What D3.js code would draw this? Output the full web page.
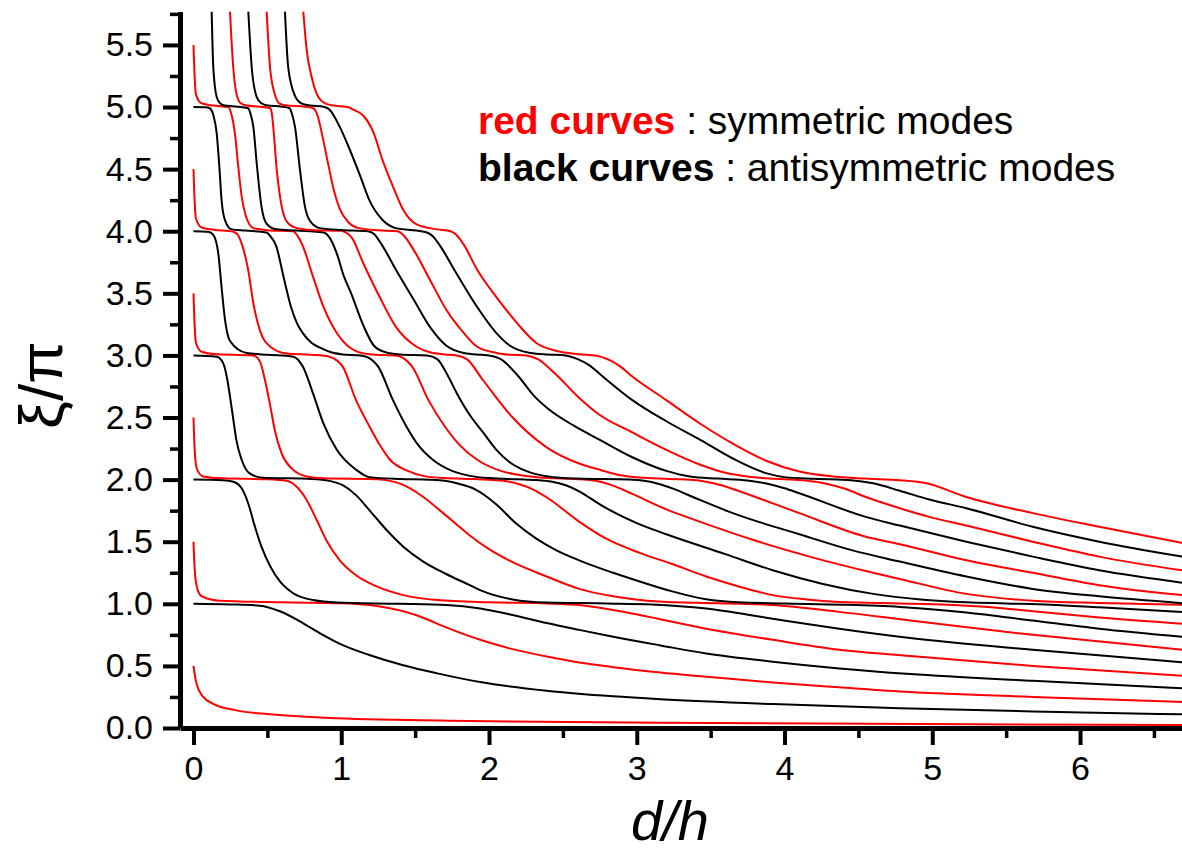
<!DOCTYPE html>
<html>
<head>
<meta charset="utf-8">
<script src="https://cdn.jsdelivr.net/npm/d3@7"></script>
<style>
  body { margin: 0; background: #fff; }
  svg { display: block; font-family: "Liberation Sans", Arial, sans-serif; }
  .axis path, .axis line { stroke: #000; }
  .axis text { fill: #000; }
  .curve { fill: none; stroke-width: 2; stroke-linejoin: round; }
</style>
</head>
<body>
<div id="chart"></div>
<script>
// tick values
var xTicks = [0, 1, 2, 3, 4, 5, 6],
    xMinor = [0.5, 1.5, 2.5, 3.5, 4.5, 5.5, 6.5],
    yTicks = [0, 0.5, 1, 1.5, 2, 2.5, 3, 3.5, 4, 4.5, 5, 5.5],
    yMinor = [0.25, 0.75, 1.25, 1.75, 2.25, 2.75, 3.25, 3.75, 4.25, 4.75, 5.25, 5.75];

// symmetric modes (red curves) as [d/h, xi/pi]
var sym0 = [[0,0.5],[0.01,0.42],[0.022,0.35],[0.066,0.25],[0.134,0.195],[0.29,0.142],[0.52,0.11],[0.97,0.078],
  [1.87,0.056],[3.16,0.043],[4.92,0.032],[6.69,0.024]];
var sym1 = [[0,1.5],[0.005,1.35],[0.012,1.22],[0.022,1.14],[0.04,1.08],[0.066,1.055],[0.18,1.025],[0.6,1.012],
  [1.0,1.005],[1.19,0.99],[1.3,0.97],[1.42,0.94],[1.55,0.89],[1.71,0.81],[1.94,0.71],[2.16,0.635],[2.39,0.575],
  [2.61,0.527],[2.84,0.49],[3.16,0.447],[3.47,0.413],[3.92,0.366],[4.37,0.328],[4.85,0.29],[5.68,0.25],[6.69,0.21]];
var sym2 = [[0,2.5],[0.005,2.32],[0.012,2.17],[0.025,2.08],[0.066,2.025],[0.2,2.01],[0.5,2.003],[0.63,1.99],
  [0.70,1.94],[0.766,1.836],[0.834,1.675],[0.90,1.51],[0.99,1.35],[1.10,1.23],[1.24,1.14],[1.42,1.07],[1.65,1.03],
  [2.0,1.012],[2.4,1.003],[2.61,0.99],[2.84,0.95],[3.02,0.91],[3.47,0.80],[3.92,0.71],[4.37,0.63],[4.85,0.58],
  [5.68,0.50],[6.69,0.42]];
var sym3 = [[0,3.5],[0.005,3.32],[0.017,3.10],[0.055,3.03],[0.134,3.012],[0.405,3.0],[0.45,2.95],[0.484,2.80],
  [0.52,2.59],[0.55,2.40],[0.597,2.21],[0.664,2.09],[0.766,2.025],[0.88,2.01],[1.25,2.003],[1.33,1.99],[1.42,1.957],
  [1.555,1.86],[1.69,1.73],[1.80,1.62],[1.87,1.55],[2.0,1.44],[2.16,1.335],[2.39,1.22],[2.61,1.12],[2.84,1.06],
  [3.07,1.025],[3.4,1.008],[3.7,1.0],[3.92,0.99],[4.37,0.935],[4.85,0.865],[5.68,0.75],[6.69,0.63]];
var sym4 = [[0,4.5],[0.005,4.32],[0.017,4.10],[0.055,4.03],[0.134,4.012],[0.27,3.995],[0.30,3.97],[0.326,3.90],
  [0.37,3.69],[0.405,3.42],[0.45,3.20],[0.52,3.07],[0.63,3.015],[0.8,3.005],[0.92,2.99],[0.97,2.96],[1.01,2.91],
  [1.10,2.64],[1.19,2.43],[1.26,2.28],[1.33,2.16],[1.45,2.07],[1.555,2.03],[1.7,2.012],[1.9,2.005],[2.0,1.999],
  [2.1,1.99],[2.2,1.965],[2.3,1.92],[2.4,1.85],[2.6,1.67],[2.8,1.52],[3.02,1.41],[3.24,1.32],[3.47,1.22],[3.69,1.14],
  [3.92,1.07],[4.15,1.035],[4.37,1.015],[4.78,1.003],[5.1,0.993],[5.4,0.972],[5.68,0.94],[6.13,0.89],[6.69,0.84]];
var sym5 = [[0,5.5],[0.005,5.32],[0.017,5.10],[0.055,5.03],[0.134,5.012],[0.236,5.0],[0.258,4.935],[0.28,4.79],
  [0.303,4.52],[0.326,4.28],[0.355,4.12],[0.405,4.025],[0.5,4.008],[0.675,4.0],[0.70,3.97],[0.74,3.88],[0.81,3.63],
  [0.88,3.39],[0.97,3.18],[1.04,3.08],[1.10,3.035],[1.19,3.01],[1.38,2.997],[1.43,2.97],[1.48,2.91],[1.59,2.64],
  [1.70,2.43],[1.80,2.28],[1.92,2.16],[2.08,2.07],[2.25,2.03],[2.45,2.01],[2.62,2.002],[2.72,1.99],[2.82,1.96],
  [2.97,1.885],[3.2,1.76],[3.43,1.66],[3.8,1.51],[4.2,1.37],[4.6,1.25],[4.78,1.20],[5.23,1.08],[5.68,1.025],
  [6.13,1.007],[6.69,0.993]];
var sym6 = [[0.247,5.77],[0.269,5.32],[0.292,5.1],[0.32,5.03],[0.36,5.012],[0.45,5.003],[0.52,4.99],[0.53,4.95],
  [0.54,4.84],[0.563,4.5],[0.597,4.2],[0.63,4.08],[0.70,4.025],[0.8,4.01],[1.0,4.003],[1.03,3.99],[1.07,3.95],
  [1.15,3.74],[1.26,3.47],[1.37,3.23],[1.51,3.07],[1.60,3.025],[1.7,3.008],[1.78,3.0],[1.85,2.97],[1.96,2.80],
  [2.16,2.50],[2.39,2.26],[2.61,2.13],[2.75,2.08],[2.89,2.035],[3.05,2.015],[3.3,2.003],[3.42,1.993],[3.52,1.97],
  [3.65,1.925],[3.85,1.84],[4.10,1.73],[4.55,1.54],[4.78,1.48],[5.23,1.35],[5.68,1.25],[6.13,1.15],[6.69,1.07]];
var sym7 = [[0.495,5.77],[0.518,5.32],[0.551,5.1],[0.58,5.03],[0.63,5.012],[0.75,5.003],[0.81,4.99],[0.84,4.93],
  [0.87,4.78],[0.91,4.55],[0.95,4.33],[0.99,4.18],[1.05,4.07],[1.12,4.025],[1.25,4.008],[1.38,4.0],[1.42,3.97],
  [1.49,3.85],[1.60,3.61],[1.71,3.37],[1.83,3.18],[1.92,3.07],[2.05,3.02],[2.15,3.005],[2.25,3.0],[2.33,2.97],
  [2.45,2.85],[2.6,2.67],[2.75,2.52],[2.97,2.38],[3.2,2.24],[3.43,2.12],[3.6,2.055],[3.75,2.025],[3.9,2.008],
  [4.12,1.995],[4.25,1.975],[4.4,1.93],[4.55,1.86],[4.78,1.77],[4.98,1.70],[5.23,1.63],[5.68,1.50],[6.13,1.38],
  [6.69,1.27]];
var sym8 = [[0.743,5.77],[0.766,5.46],[0.80,5.24],[0.845,5.08],[0.89,5.03],[0.95,5.012],[1.05,4.998],[1.08,4.98],
  [1.15,4.93],[1.22,4.79],[1.28,4.57],[1.35,4.36],[1.42,4.17],[1.51,4.055],[1.65,4.015],[1.74,4.0],[1.78,3.97],
  [1.83,3.89],[1.92,3.69],[2.05,3.47],[2.19,3.26],[2.32,3.10],[2.46,3.035],[2.6,3.01],[2.73,2.998],[2.82,2.96],
  [2.89,2.91],[2.97,2.83],[3.20,2.64],[3.43,2.45],[3.65,2.29],[3.88,2.15],[4.10,2.065],[4.33,2.025],[4.55,2.008],
  [4.78,1.995],[4.96,1.97],[5.23,1.86],[5.68,1.73],[6.13,1.62],[6.69,1.49]];

// antisymmetric modes (black curves)
var anti0 = [[0,1.0],[0.25,0.995],[0.45,0.985],[0.585,0.94],[0.74,0.845],[0.86,0.76],[1.01,0.667],[1.19,0.588],
  [1.42,0.505],[1.65,0.44],[1.94,0.37],[2.39,0.30],[2.84,0.255],[3.16,0.232],[3.92,0.193],[4.78,0.16],[5.68,0.133],[6.69,0.11]];
var anti1 = [[0,2.0],[0.2,1.995],[0.27,1.983],[0.326,1.93],[0.37,1.81],[0.416,1.62],[0.46,1.46],[0.52,1.30],
  [0.585,1.18],[0.675,1.085],[0.81,1.03],[0.97,1.01],[1.4,1.0],[1.71,0.99],[1.94,0.962],[2.16,0.91],[2.39,0.845],
  [2.61,0.79],[2.84,0.735],[3.16,0.665],[3.47,0.60],[3.92,0.534],[4.37,0.48],[4.85,0.435],[5.68,0.38],[6.69,0.32]];
var anti2 = [[0,3.0],[0.157,2.99],[0.2,2.94],[0.225,2.83],[0.247,2.67],[0.27,2.48],[0.29,2.32],[0.326,2.16],
  [0.38,2.05],[0.47,2.015],[0.8,2.005],[0.92,1.99],[1.01,1.955],[1.10,1.875],[1.19,1.755],[1.31,1.59],[1.42,1.46],
  [1.555,1.34],[1.71,1.24],[1.87,1.15],[1.94,1.11],[2.16,1.035],[2.39,1.01],[2.8,1.003],[3.1,0.995],[3.47,0.962],
  [3.92,0.88],[4.37,0.80],[4.85,0.725],[5.68,0.63],[6.69,0.53]];
var anti3 = [[0,4.0],[0.1,3.995],[0.134,3.97],[0.168,3.82],[0.19,3.55],[0.213,3.29],[0.235,3.15],[0.258,3.10],
  [0.3,3.05],[0.36,3.02],[0.5,3.005],[0.675,2.99],[0.74,2.91],[0.81,2.69],[0.88,2.45],[0.97,2.24],[1.10,2.08],
  [1.19,2.02],[1.4,2.005],[1.6,1.999],[1.7,1.99],[1.8,1.965],[1.9,1.925],[2.05,1.80],[2.18,1.65],[2.32,1.525],
  [2.45,1.435],[2.61,1.35],[2.84,1.25],[3.02,1.18],[3.24,1.10],[3.47,1.036],[3.69,1.012],[4.0,1.003],[4.4,0.993],
  [4.78,0.975],[5.23,0.93],[5.68,0.865],[6.13,0.80],[6.69,0.735]];
var anti4 = [[0,5.0],[0.08,4.998],[0.11,4.99],[0.134,4.935],[0.157,4.79],[0.175,4.52],[0.19,4.25],[0.213,4.09],
  [0.258,4.015],[0.35,4.005],[0.495,3.99],[0.52,3.96],[0.56,3.88],[0.61,3.63],[0.66,3.39],[0.70,3.26],[0.74,3.18],
  [0.80,3.10],[0.86,3.06],[0.93,3.025],[1.01,3.008],[1.13,3.0],[1.18,2.985],[1.25,2.91],[1.35,2.64],[1.44,2.43],
  [1.52,2.28],[1.62,2.16],[1.75,2.07],[1.87,2.03],[2.0,2.012],[2.2,2.003],[2.32,1.997],[2.42,1.985],[2.52,1.955],
  [2.62,1.90],[2.75,1.80],[3.0,1.65],[3.2,1.56],[3.6,1.40],[3.92,1.27],[4.26,1.16],[4.6,1.08],[4.92,1.035],
  [5.23,1.012],[5.5,1.003],[5.8,0.993],[6.13,0.972],[6.69,0.935]];
var anti5 = [[0.123,5.77],[0.134,5.32],[0.157,5.08],[0.18,5.03],[0.21,5.012],[0.3,5.003],[0.37,4.99],[0.385,4.95],
  [0.405,4.84],[0.43,4.52],[0.46,4.2],[0.495,4.06],[0.56,4.015],[0.7,4.005],[0.88,3.99],[0.92,3.95],[0.97,3.82],
  [1.02,3.63],[1.06,3.52],[1.15,3.24],[1.22,3.08],[1.30,3.025],[1.4,3.008],[1.58,3.0],[1.65,2.97],[1.72,2.84],
  [1.78,2.70],[1.87,2.52],[1.96,2.38],[2.05,2.24],[2.14,2.14],[2.25,2.07],[2.4,2.025],[2.6,2.008],[2.95,2.0],
  [3.05,1.99],[3.15,1.965],[3.25,1.925],[3.4,1.85],[3.65,1.73],[4.10,1.56],[4.46,1.43],[4.78,1.34],[5.23,1.22],
  [5.68,1.12],[6.13,1.06],[6.69,1.005]];
var anti6 = [[0.371,5.77],[0.394,5.32],[0.428,5.08],[0.46,5.03],[0.50,5.012],[0.6,5.003],[0.65,4.99],[0.665,4.95],
  [0.687,4.84],[0.72,4.5],[0.754,4.2],[0.79,4.08],[0.856,4.025],[1.0,4.01],[1.18,4.0],[1.22,3.98],[1.28,3.88],
  [1.37,3.69],[1.49,3.45],[1.60,3.23],[1.71,3.08],[1.83,3.02],[1.95,3.005],[2.0,3.0],[2.08,2.97],[2.2,2.83],
  [2.3,2.68],[2.4,2.57],[2.58,2.43],[2.75,2.32],[2.97,2.18],[3.2,2.07],[3.36,2.025],[3.55,2.008],[3.75,1.993],
  [3.87,1.97],[4.0,1.93],[4.10,1.89],[4.55,1.70],[4.78,1.63],[5.23,1.50],[5.68,1.38],[6.13,1.27],[6.69,1.17]];
var anti7 = [[0.619,5.77],[0.641,5.32],[0.687,5.09],[0.73,5.03],[0.79,5.012],[0.88,5.003],[0.92,4.98],[0.99,4.84],
  [1.06,4.65],[1.13,4.44],[1.19,4.25],[1.28,4.09],[1.37,4.025],[1.51,4.005],[1.58,3.99],[1.62,3.96],[1.67,3.88],
  [1.78,3.66],[1.92,3.39],[2.05,3.18],[2.14,3.08],[2.28,3.02],[2.4,3.008],[2.52,3.0],[2.6,2.97],[2.68,2.92],
  [2.75,2.85],[2.97,2.64],[3.2,2.47],[3.43,2.32],[3.65,2.17],[3.88,2.05],[4.0,2.02],[4.2,2.006],[4.45,1.995],
  [4.6,1.97],[4.78,1.91],[4.98,1.84],[5.23,1.77],[5.68,1.62],[6.13,1.50],[6.69,1.38]];

var red = '#ff0000', black = '#000000';

var modes = [
  {points: sym0, color: red}, {points: anti0, color: black},
  {points: sym1, color: red}, {points: anti1, color: black},
  {points: sym2, color: red}, {points: anti2, color: black},
  {points: sym3, color: red}, {points: anti3, color: black},
  {points: sym4, color: red}, {points: anti4, color: black},
  {points: sym5, color: red}, {points: anti5, color: black},
  {points: sym6, color: red}, {points: anti6, color: black},
  {points: sym7, color: red}, {points: anti7, color: black},
  {points: sym8, color: red}
];

var legendRows = [
  {key: 'red curves', rest: ' : symmetric modes', color: red},
  {key: 'black curves', rest: ' : antisymmetric modes', color: black}
];

var width = 1182, height = 852;

var x = d3.scaleLinear().domain([-0.0913, 6.69]).range([180, 1182]),
    y = d3.scaleLinear().domain([0, 5.77]).range([728, 11.4]);

var svg = d3.select('#chart').append('svg')
    .attr('width', width)
    .attr('height', height);

svg.append('clipPath')
    .attr('id', 'plot')
  .append('rect')
    .attr('x', x.range()[0])
    .attr('y', y.range()[1])
    .attr('width', x.range()[1] - x.range()[0])
    .attr('height', y.range()[0] - y.range()[1]);

var line = d3.line()
    .x(function(d) { return x(d[0]); })
    .y(function(d) { return y(d[1]); })
    .curve(d3.curveMonotoneX);

// the mode curves
svg.append('g')
    .attr('clip-path', 'url(#plot)')
  .selectAll('.curve')
    .data(modes)
      .enter().append('path')
    .attr('class', 'curve')
    .attr('d', function(d) { return line(d.points); })
    .style('stroke', function(d) { return d.color; });

// minor ticks
var xMin = svg.append('g')
    .attr('class', 'axis')
    .attr('transform', 'translate(0,' + y(0) + ')')
    .call(d3.axisBottom(x).tickValues(xMinor).tickSize(10).tickFormat(''));
xMin.select('.domain').remove();
xMin.selectAll('.tick line').style('stroke-width', 3.5);

var yMin = svg.append('g')
    .attr('class', 'axis')
    .attr('transform', 'translate(' + x.range()[0] + ',0)')
    .call(d3.axisLeft(y).tickValues(yMinor).tickSize(10).tickFormat(''));
yMin.select('.domain').remove();
yMin.selectAll('.tick line').style('stroke-width', 3.5);

// major axes
var xAxis = svg.append('g')
    .attr('class', 'axis')
    .attr('transform', 'translate(0,' + y(0) + ')')
    .call(d3.axisBottom(x).tickValues(xTicks).tickSize(17).tickSizeOuter(0)
      .tickPadding(11).tickFormat(d3.format('d')));
xAxis.select('.domain').style('stroke-width', 5);
xAxis.selectAll('.tick line').style('stroke-width', 4);
xAxis.selectAll('text').style('font-size', '34px');

var yAxis = svg.append('g')
    .attr('class', 'axis')
    .attr('transform', 'translate(' + x.range()[0] + ',0)')
    .call(d3.axisLeft(y).tickValues(yTicks).tickSize(17).tickSizeOuter(0)
      .tickPadding(10).tickFormat(d3.format('.1f')));
yAxis.select('.domain').style('stroke-width', 5);
yAxis.selectAll('.tick line').style('stroke-width', 4);
yAxis.selectAll('text').style('font-size', '34px');

// axis titles
svg.append('text')
    .attr('transform', 'translate(62,385) rotate(-90)')
    .attr('text-anchor', 'middle')
    .style('font-size', '62px')
    .text('\u03BE/\u03C0');

svg.append('text')
    .attr('x', 670)
    .attr('y', 840)
    .attr('text-anchor', 'middle')
    .style('font-size', '56px')
    .style('font-style', 'italic')
    .text('d/h');

// legend
var rows = svg.selectAll('.legend')
    .data(legendRows)
      .enter().append('text')
    .attr('class', 'legend')
    .attr('x', 478)
    .attr('y', function(d, i) { return 134 + i * 47; })
    .style('font-size', '39px');

rows.append('tspan')
    .style('font-weight', 'bold')
    .style('fill', function(d) { return d.color; })
    .text(function(d) { return d.key; });

rows.append('tspan')
    .style('fill', '#000')
    .text(function(d) { return d.rest; });
</script>
</body>
</html>
